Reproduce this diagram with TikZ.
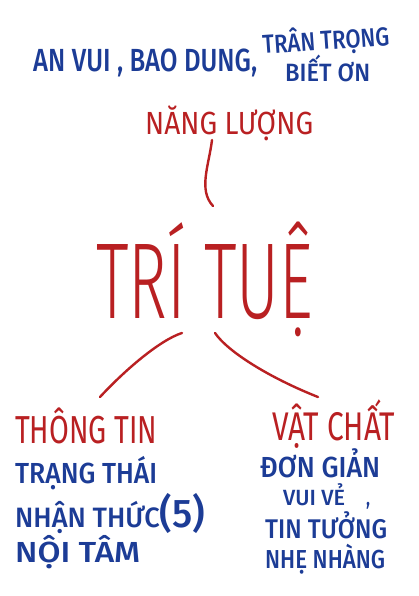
\documentclass[tikz,border=0pt]{standalone}
\usepackage{fontspec}
\usepackage{graphicx}
\setmainfont{Fira Sans}
\newfontfamily\lightfont{Fira Sans Light}
\newfontfamily\medfont{Fira Sans Medium}
\definecolor{inkred}{RGB}{185,32,34}
\definecolor{inkblue}{RGB}{28,60,150}
\newcommand{\fitw}[3]{\resizebox{#1pt}{\height}{\fontsize{#2}{#2}\selectfont #3}}
\begin{document}
\begin{tikzpicture}[x=1pt,y=-1pt,
  txt/.style={inner sep=0pt,anchor=base west},
  red/.style={txt,text=inkred},
  blue/.style={txt,text=inkblue,font=\medfont},
  link/.style={draw=inkred,line width=2.4pt,line cap=round}]
\fill[white] (0,0) rectangle (419,596);
\useasboundingbox (0,0) rectangle (419,596);
% top blue phrase
\node[blue] (top1) at (33,72) {\fitw{224}{32}{AN VUI , BAO DUNG,}};
\node[blue,rotate=4] (top2) at (263,54) {\fitw{127}{26}{TRÂN TRỌNG}};
\node[blue] (top3) at (285,82) {\fitw{85}{25}{BIẾT ƠN}};
% red nodes
\node[red] (nl) at (145,135) {\fitw{168}{32}{NĂNG LƯỢNG}};
\node[red] (tt) at (96,318) {\fitw{217}{108}{\lightfont TRÍ TUỆ}};
\node[red] (ttin) at (15,443) {\fitw{142}{39}{THÔNG TIN}};
\node[red] (vc) at (272,440) {\fitw{123}{40}{VẬT CHẤT}};
% left blue list
\node[blue] (b1) at (15,483) {\fitw{142}{29}{TRẠNG THÁI}};
\node[blue] (b2) at (15,527) {\fitw{190}{28}{NHẬN THỨC{\fontsize{40}{40}\selectfont(5)}}};
\node[blue] (b3) at (15,562) {\fitw{125}{29}{NỘI TÂM}};
% right blue list
\node[blue] (r1) at (260,477) {\fitw{120}{29}{ĐƠN GIẢN}};
\node[blue] (r2) at (283,505) {\fitw{62}{22}{VUI VẺ}\hspace{21pt}\fitw{4}{22}{,}};
\node[blue] (r3) at (265,538) {\fitw{122}{27}{TIN TƯỞNG}};
\node[blue] (r4) at (265,568) {\fitw{120}{26}{NHẸ NHÀNG}};
% connectors
\draw[link] ([shift={(67,5)}]nl.base west) .. controls (209,165) and (198,190) .. ([shift={(117,-112)}]tt.base west);
\draw[link] ([shift={(86,15)}]tt.base west) .. controls (160,340) and (125,370) .. ([shift={(85,-46)}]ttin.base west);
\draw[link] ([shift={(119,15)}]tt.base west) .. controls (228,352) and (270,378) .. ([shift={(46,-43)}]vc.base west);
\end{tikzpicture}
\end{document}
